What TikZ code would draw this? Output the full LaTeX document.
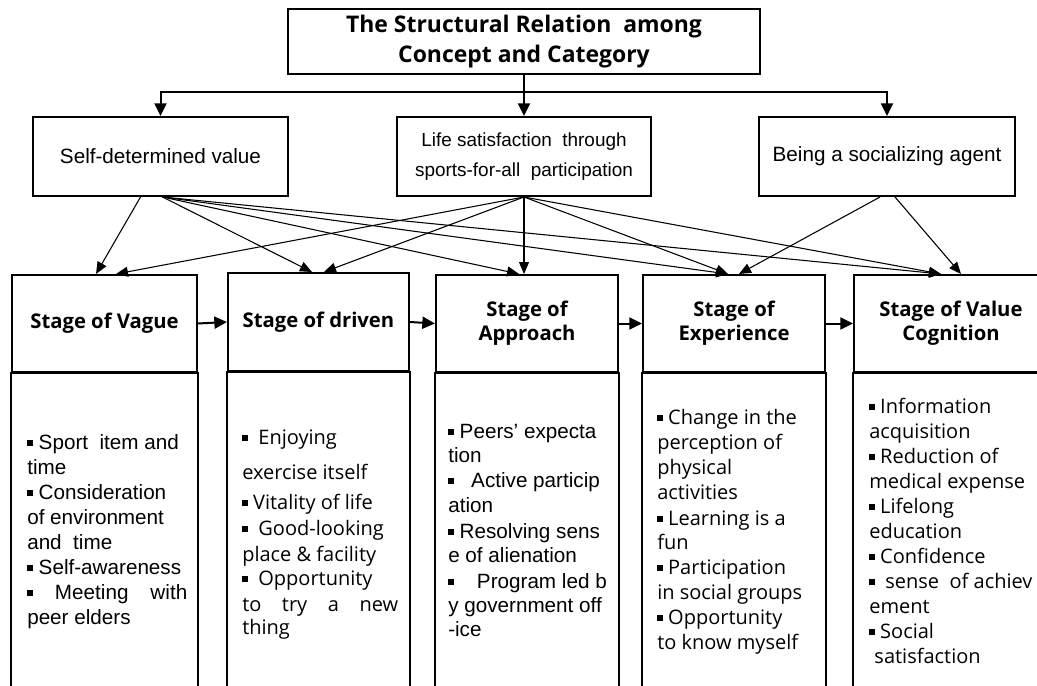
\documentclass[tikz,border=0pt]{standalone}
\usepackage{fontspec}
\setmainfont{Liberation Sans}
\newfontfamily\gothic{Open Sans}
\usetikzlibrary{arrows.meta,calc}

% small filled square used as list bullet
\newcommand\sqb{\rule[2.2pt]{4.3pt}{4.3pt}}

\tikzset{
  wh/.style 2 args={minimum width={#1*0.75pt}, minimum height={#2*0.75pt}},
  box/.style={draw, line width=1.5pt, inner sep=0pt, align=center},
  frame/.style={draw, line width=1.5pt},
  bigarrow/.style={line width=1.5pt, -{Triangle[length=9.5pt,width=9pt]}},
  link/.style={line width=0.8pt, -{Triangle[length=9pt,width=7.5pt]}},
  titlefont/.style={font=\gothic\bfseries\fontsize{17.2}{23}\selectfont},
  catfont/.style={font=\fontsize{15.5}{18}\selectfont},
  catsmall/.style={font=\fontsize{14.2}{22.5}\selectfont},
  stagefont/.style={font=\gothic\bfseries\fontsize{15.2}{18}\selectfont},
  itemA/.style={font=\fontsize{15.5}{18}\selectfont, inner sep=0pt, anchor=base west},
  itemB/.style={font=\gothic\fontsize{15}{18}\selectfont, inner sep=0pt, anchor=base west},
}

\begin{document}
\begin{tikzpicture}[x=0.75pt,y=-0.75pt]
\useasboundingbox (0,0) rectangle (1037,685);
\clip (0,0) rectangle (1037,685);

% heading box
\node[box, wh={472}{65}, titlefont] (top) at (524,41.5)
  {The Structural Relation\ \ among\\Concept and Category};

% three categories
\node[box, wh={255}{79}, catfont] (A) at (160.5,156.5) {Self-determined value};
\node[box, wh={254}{79}, catsmall] (B) at (524,156.5)
  {Life satisfaction\ \ through\\sports-for-all\ \ participation};
\node[box, wh={256}{79}, catfont] (C) at (887,156.5) {Being a socializing agent};

% branching from the heading
\coordinate (bus) at (0,92);
\draw[bigarrow] (top.south) -- (B.north);
\draw[bigarrow] (top.south |- bus) -| (A.north);
\draw[bigarrow] (top.south |- bus) -| (C.north);

% stage headers
\node[box, wh={185}{97}, stagefont] (s1) at (104.5,323.5) {Stage of Vague};
\node[box, wh={181}{98}, stagefont] (s2) at (318.5,322) {Stage of driven};
\node[box, wh={182}{97}, stagefont] (s3) at (527,323.5) {Stage of\\Approach};
\node[box, wh={182}{97}, stagefont] (s4) at (734,323.5) {Stage of\\Experience};
\node[box, wh={194}{97}, stagefont] (s5) at (951,323.5) {Stage of Value\\Cognition};

% stage bodies (run past the lower edge)
\foreach \s in {s1,s2,s3,s4,s5}
  \draw[frame] (\s.south west) rectangle ($(\s.south east)+(0,340)$);

% stage sequence
\draw[bigarrow] (s1.east) -- (s2.west);
\draw[bigarrow] (s2.east) -- (s3.west);
\draw[bigarrow] (s3.east) -- (s4.west);
\draw[bigarrow] (s4.east) -- (s5.west);

% start and end points of the category links
\coordinate (a0) at ($(A.south)+(-20,0)$);
\coordinate (a1) at ($(A.south)+(2,0)$);
\coordinate (b0) at (B.south);
\coordinate (c0) at ($(C.south)+(-7,0)$);
\coordinate (c1) at ($(C.south)+(8,0)$);
\coordinate (t1a) at ($(s1.north west)+(85,0)$);
\coordinate (t1b) at ($(s1.north west)+(105,0)$);
\coordinate (t2a) at ($(s2.north west)+(85,0)$);
\coordinate (t2b) at ($(s2.north west)+(97,0)$);
\coordinate (t3a) at ($(s3.north west)+(84,0)$);
\coordinate (t3b) at (b0 |- s3.north);
\coordinate (t4a) at ($(s4.north west)+(86,0)$);
\coordinate (t4b) at ($(s4.north west)+(97,0)$);
\coordinate (t5a) at ($(s5.north west)+(88,0)$);
\coordinate (t5b) at ($(s5.north west)+(108,0)$);

% category links
\draw[link] (a0) -- (t1a);
\draw[link] (a1) -- (t2a);
\draw[link] (a1) -- (t3a);
\draw[link] (a1) -- (t4a);
\draw[link] (a1) -- (t5a);
\draw[link] (b0) -- (t1b);
\draw[link] (b0) -- (t2b);
\draw[link] (b0) -- (t3b);
\draw[link] (b0) -- (t4a);
\draw[link] (b0) -- (t5a);
\draw[link] (c0) -- (t4b);
\draw[link] (c1) -- (t5b);

% stage contents
\foreach \y/\t [count=\i] in {
    443/{\sqb\ Sport\ \ item and},
    468/{time},
    493/{\sqb\ Consideration},
    518/{of environment},
    543/{and\ \ time},
    568/{\sqb\ Self-awareness},
    593/{\makebox[120pt][s]{\sqb\ Meeting with}},
    618/{peer elders}}
  \node[itemA] (va\i) at (27,\y+6) {\t};

\foreach \y/\t [count=\i] in {
    438/{\sqb\ \ Enjoying},
    473/{exercise itself},
    503/{\sqb\ Vitality of life},
    529/{\sqb\ \ Good-looking},
    555/{place \& facility},
    579/{\sqb\ \ Opportunity},
    605/{\makebox[117pt][s]{to try a new}},
    628/{thing}}
  \node[itemB] (dr\i) at (242,\y+6) {\t};

\foreach \y/\t [count=\i] in {
    432/{\sqb\ Peers’ expecta},
    456/{tion},
    481/{\sqb\ \ \ Active particip},
    506/{ation},
    532/{\sqb\ Resolving sens},
    556/{e of alienation},
    582/{\sqb\ \ \ \ Program led b},
    606/{y government off},
    630/{-ice}}
  \node[itemA] (ap\i) at (448,\y+6) {\t};

\foreach \y/\t [count=\i] in {
    418/{\sqb\ Change in the},
    443/{perception of},
    468/{physical},
    493/{activities},
    519/{\sqb\ Learning is a},
    543/{fun},
    568/{\sqb\ Participation},
    593/{in social groups},
    618/{\sqb\ Opportunity},
    643/{to know myself}}
  \node[itemB] (ex\i) at (657,\y+6) {\t};

\foreach \y/\t [count=\i] in {
    407/{\sqb\ Information},
    432/{acquisition},
    457/{\sqb\ Reduction of},
    482/{medical expense},
    507/{\sqb\ Lifelong},
    532/{education},
    557/{\sqb\ Confidence},
    582/{\sqb\ \ sense\ \ of achiev},
    607/{ement},
    632/{\sqb\ Social},
    657/{\ satisfaction}}
  \node[itemB] (vc\i) at (869,\y+6) {\t};
\end{tikzpicture}
\end{document}
